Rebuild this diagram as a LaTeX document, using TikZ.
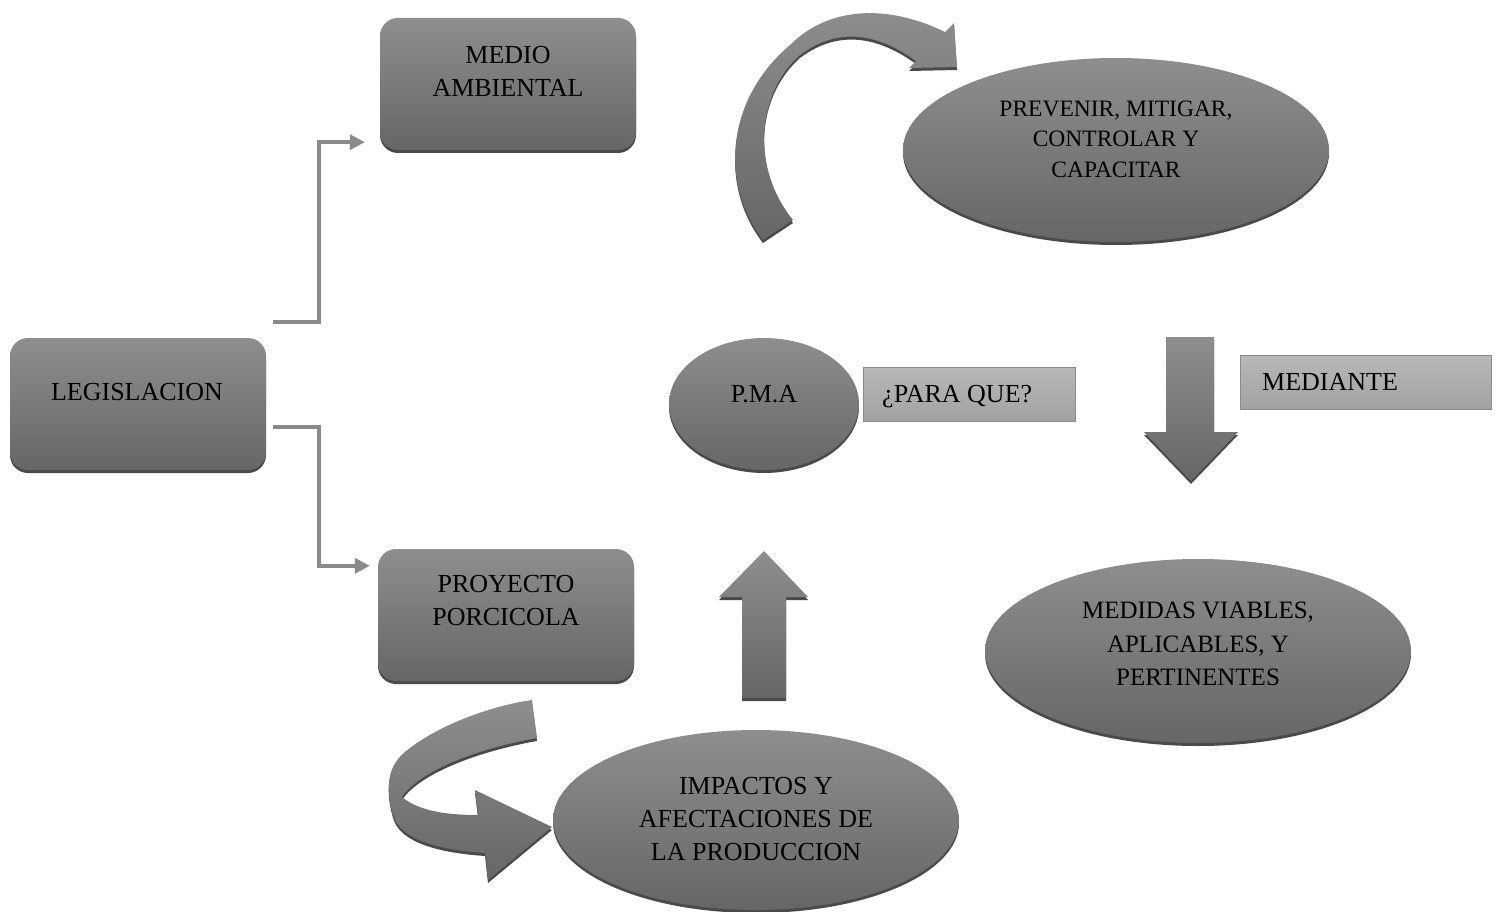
\documentclass[tikz,border=0pt]{standalone}
\usepackage{fontspec}
\setmainfont{Liberation Serif}
\usetikzlibrary{shapes.geometric,arrows.meta,shadows}
\definecolor{gtop}{HTML}{8E8E8E}
\definecolor{gbot}{HTML}{666666}
\definecolor{gsh}{HTML}{4A4A4A}
\definecolor{ltop}{HTML}{B8B8B8}
\definecolor{lbot}{HTML}{A2A2A2}
\definecolor{lineg}{HTML}{8A8A8A}
\begin{document}
\begin{tikzpicture}[x=1pt,y=-1pt,
  shp/.style={top color=gtop,bottom color=gbot,draw=none,
    drop shadow={shadow xshift=0pt,shadow yshift=-3pt,fill=gsh,opacity=1}},
  rbox/.style={shp,rectangle,rounded corners=18pt,minimum width=256pt,minimum height=132pt,inner sep=0pt},
  oval/.style={shp,ellipse,inner sep=0pt},
  lbox/.style={rectangle,top color=ltop,bottom color=lbot,draw=lineg,line width=0.8pt,inner sep=0pt},
  txt/.style={font=\fontsize{26}{33}\selectfont,align=center,text=black,inner sep=0pt},
  conn/.style={draw=lineg,line width=3.5pt,-{Triangle[length=15pt,width=15pt]}}]
\useasboundingbox (0,0) rectangle (1501,912);

% rounded boxes
\node[rbox] (leg) at (138,404) {};
\node[txt] (legt) at (137,392) {LEGISLACION};
\node[rbox] (med) at (508,84) {};
\node[txt] (medt) at (508,71) {MEDIO\\AMBIENTAL};
\node[rbox] (pro) at (506,615) {};
\node[txt] (prot) at (506,601) {PROYECTO\\PORCICOLA};

% connectors
\coordinate (c1) at (273,322);
\coordinate (c2) at (273,427);
\draw[conn] (c1) -- ++(46,0) |- ([xshift=-15pt,yshift=8pt]med.south west);
\draw[conn] (c2) -- ++(46,0) |- ([xshift=-8pt,yshift=-17pt]pro.north west);

% ellipses
\node[oval,minimum width=190pt,minimum height=132pt] (pma) at (764,404) {};
\node[txt] (pmat) at (764,394) {P.M.A};
\node[oval,minimum width=426pt,minimum height=184pt] (prev) at (1116,150) {};
\node[txt,font=\fontsize{23.5}{30.5}\selectfont] (prevt) at (1116,139) {PREVENIR, MITIGAR,\\CONTROLAR Y\\CAPACITAR};
\node[oval,minimum width=426pt,minimum height=184pt] (medi) at (1198,651) {};
\node[txt,font=\fontsize{25}{33.5}\selectfont] (medit) at (1198,644) {MEDIDAS VIABLES,\\APLICABLES, Y\\PERTINENTES};
\node[oval,minimum width=406pt,minimum height=180pt] (imp) at (756,820) {};
\node[txt] (impt) at (756,819) {IMPACTOS Y\\AFECTACIONES DE\\LA PRODUCCION};

% light label boxes
\node[lbox,minimum width=212pt,minimum height=54pt] (para) at (969,394) {};
\node[txt,anchor=west] (parat) at (882,397) {¿PARA QUE?};
\node[lbox,minimum width=251pt,minimum height=54pt] (mdte) at (1365.5,382) {};
\node[txt,anchor=west] (mdtet) at (1262,382) {MEDIANTE};

% block arrows
\path[shp] (1166,337) -- (1214,337) -- (1214,432) -- (1238,432) -- (1191,481) -- (1144,432) -- (1166,432) -- cycle;
\path[shp] (742,698) -- (786,698) -- (786,597) -- (808,597) -- (764,551) -- (719,597) -- (742,597) -- cycle;

% curved arrow (top)
\path[shp] (763,240) -- (793,220)
  .. controls (752,170) and (755,95) .. (800,55)
  .. controls (840,25) and (880,35) .. (916,61)
  -- (909,68) -- (957,67) -- (954,23) -- (945,32)
  .. controls (890,5) and (830,5) .. (790,45)
  .. controls (725,100) and (720,185) .. (763,240) -- cycle;

% curved arrow (bottom)
\path[shp] (532,700) -- (537,738)
  .. controls (480,748) and (420,770) .. (402,797)
  .. controls (420,812) and (450,815) .. (478,815)
  -- (475,790) -- (552,827) -- (488,880) -- (485,853)
  .. controls (440,850) and (400,840) .. (393,815)
  .. controls (386,790) and (385,765) .. (410,748)
  .. controls (440,725) and (490,706) .. (532,700) -- cycle;
\end{tikzpicture}
\end{document}
